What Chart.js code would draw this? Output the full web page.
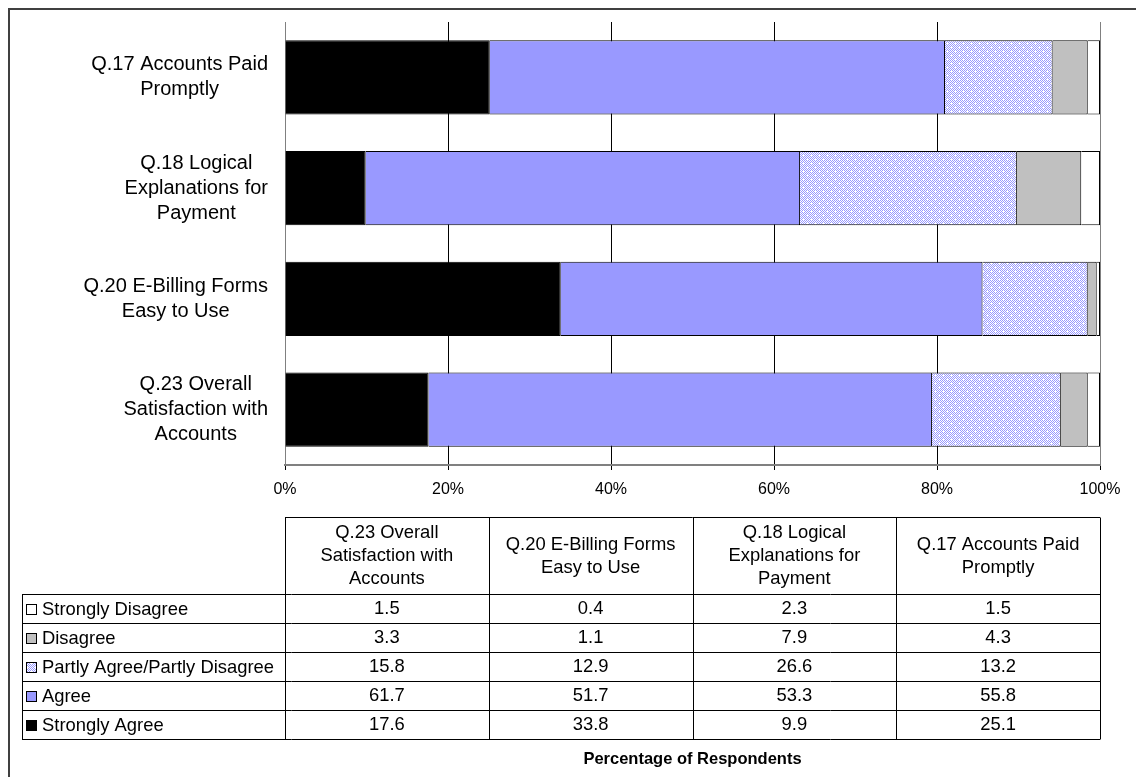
<!DOCTYPE html>
<html>
<head>
<meta charset="utf-8">
<script src="https://cdn.jsdelivr.net/npm/chart.js@4.4.1/dist/chart.umd.min.js"></script>
<style>
  html, body { margin: 0; padding: 0; background: #fff; }
</style>
</head>
<body>
<canvas id="respChart" width="1136" height="777"></canvas>
<script>
const questions = [
  ["Q.23 Overall", "Satisfaction with", "Accounts"],
  ["Q.20 E-Billing Forms", "Easy to Use"],
  ["Q.18 Logical", "Explanations for", "Payment"],
  ["Q.17 Accounts Paid", "Promptly"]
];

// stack order, left to right
const seriesNames = ["Strongly Agree", "Agree", "Partly Agree/Partly Disagree", "Disagree", "Strongly Disagree"];
const stronglyAgree = [17.6, 33.8, 9.9, 25.1];
const agree = [61.7, 51.7, 53.3, 55.8];
const partlyAgree = [15.8, 12.9, 26.6, 13.2];
const disagree = [3.3, 1.1, 7.9, 4.3];
const stronglyDisagree = [1.5, 0.4, 2.3, 1.5];
const xTicks = [0, 20, 40, 60, 80, 100];

const FONT = "'Liberation Sans', Arial, sans-serif";

function makePattern() {
  const c = document.createElement("canvas");
  c.width = 8; c.height = 8;
  const g = c.getContext("2d");
  g.fillStyle = "#ffffff";
  g.fillRect(0, 0, 8, 8);
  g.fillStyle = "#9999ff";
  for (let y = 0; y < 8; y++) {
    for (let x = 0; x < 8; x++) {
      if ((x + y) % 2 === 0) g.fillRect(x, y, 1, 1);
    }
  }
  g.fillStyle = "#ffffff";
  g.fillRect(3, 2, 1, 2);
  g.fillRect(7, 6, 1, 2);
  return g.createPattern(c, "repeat");
}
const hatch = makePattern();

const allSeries = [stronglyAgree, agree, partlyAgree, disagree, stronglyDisagree];
const fills = ["#000000", "#9999ff", hatch, "#c0c0c0", "#ffffff"];
const totals = questions.map((q, i) => allSeries.reduce((s, arr) => s + arr[i], 0));

const datasets = allSeries.map((arr, k) => ({
  label: seriesNames[k],
  data: arr.map((v, i) => v / totals[i] * 100),
  backgroundColor: fills[k],
  borderColor: "#000000",
  borderWidth: 1,
  barPercentage: 0.67,
  categoryPercentage: 1
}));

const frame = {
  id: "frame",
  beforeDraw(chart) {
    const ctx = chart.ctx;
    ctx.save();
    ctx.fillStyle = "#fff";
    ctx.fillRect(0, 0, chart.width, chart.height);
    ctx.strokeStyle = "#404040";
    ctx.lineWidth = 2;
    ctx.strokeRect(9, 9, 1300, 900);
    ctx.restore();
  }
};

const yLabels = {
  id: "yLabels",
  afterDraw(chart) {
    const ctx = chart.ctx;
    const yScale = chart.scales.y;
    ctx.save();
    ctx.font = "20px " + FONT;
    ctx.fillStyle = "#000";
    ctx.textAlign = "center";
    ctx.textBaseline = "middle";
    const rightEdge = chart.chartArea.left - 17;
    questions.forEach((lines, i) => {
      const cy = yScale.getPixelForValue(i);
      const w = Math.max(...lines.map(l => ctx.measureText(l).width));
      const cx = rightEdge - w / 2;
      const lh = 25;
      lines.forEach((l, j) => {
        ctx.fillText(l, cx, cy + (j - (lines.length - 1) / 2) * lh);
      });
    });
    ctx.restore();
  }
};

const dataTable = {
  id: "dataTable",
  afterDraw(chart) {
    const ctx = chart.ctx;
    const area = chart.chartArea;
    const colW = (area.right - area.left) / questions.length;
    const tableLeft = 22, headTop = 517.5, headBottom = 594.5, rowH = 29;
    const rows = [4, 3, 2, 1, 0]; // series index per table row
    const tableBottom = headBottom + rowH * rows.length;
    ctx.save();
    ctx.strokeStyle = "#000";
    ctx.lineWidth = 1;
    ctx.beginPath();
    // header box
    ctx.moveTo(area.left, headTop); ctx.lineTo(area.right, headTop);
    for (let c = 0; c <= questions.length; c++) {
      const x = Math.round(area.left + c * colW) + 0.5;
      ctx.moveTo(x, headTop); ctx.lineTo(x, tableBottom);
    }
    ctx.moveTo(tableLeft + 0.5, headBottom); ctx.lineTo(tableLeft + 0.5, tableBottom);
    for (let r = 0; r <= rows.length; r++) {
      const y = headBottom + r * rowH;
      ctx.moveTo(tableLeft, y); ctx.lineTo(area.right, y);
    }
    ctx.stroke();

    ctx.fillStyle = "#000";
    ctx.textBaseline = "middle";
    ctx.textAlign = "center";
    ctx.font = "18.4px " + FONT;
    // header text
    questions.forEach((lines, i) => {
      const cx = area.left + (i + 0.5) * colW;
      const cy = (headTop + headBottom) / 2;
      lines.forEach((l, j) => {
        ctx.fillText(l, cx, cy + (j - (lines.length - 1) / 2) * 23);
      });
    });
    // rows
    rows.forEach((k, r) => {
      const cy = headBottom + r * rowH + rowH / 2;
      ctx.fillStyle = fills[k];
      ctx.fillRect(26, cy - 5, 11, 11);
      ctx.strokeStyle = "#000";
      ctx.strokeRect(26.5, cy - 4.5, 10, 10);
      ctx.fillStyle = "#000";
      ctx.textAlign = "left";
      ctx.fillText(seriesNames[k], 42, cy + 1);
      ctx.textAlign = "center";
      allSeries[k].forEach((v, i) => {
        ctx.fillText(v.toFixed(1), area.left + (i + 0.5) * colW, cy);
      });
    });
    // axis caption
    ctx.font = "bold 16.5px " + FONT;
    ctx.fillText("Percentage of Respondents", (area.left + area.right) / 2, 759);
    ctx.restore();
  }
};

new Chart(document.getElementById("respChart").getContext("2d"), {
  type: "bar",
  data: {
    labels: questions,
    datasets: datasets
  },
  options: {
    indexAxis: "y",
    responsive: false,
    animation: false,
    layout: { padding: { left: 0, top: 22, right: 36, bottom: 0 } },
    plugins: {
      legend: { display: false },
      tooltip: { enabled: false }
    },
    scales: {
      x: {
        stacked: true,
        min: 0,
        max: 100,
        afterBuildTicks(scale) {
          scale.ticks = xTicks.map(v => ({ value: v }));
        },
        afterFit(scale) { scale.height = 312; },
        grid: {
          color: ctx => (ctx.tick && (ctx.tick.value === 0 || ctx.tick.value === 100)) ? "#808080" : "#000000",
          tickColor: "#000000",
          lineWidth: 1,
          tickLength: 5
        },
        border: { display: true, color: "#808080", width: 2 },
        ticks: {
          color: "#000",
          font: { family: FONT, size: 16 },
          padding: 10,
          maxRotation: 0,
          callback: v => v + "%"
        }
      },
      y: {
        stacked: true,
        reverse: true,
        afterFit(scale) { scale.width = 285; },
        grid: { display: false },
        border: { display: true, color: "#808080", width: 1 },
        ticks: { display: false }
      }
    }
  },
  plugins: [frame, yLabels, dataTable]
});
</script>
</body>
</html>
